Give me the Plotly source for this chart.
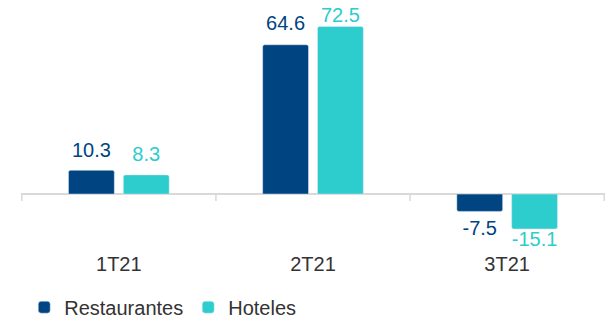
import plotly.graph_objects as go

categories = ["1T21", "2T21", "3T21"]
restaurantes = [10.3, 64.6, -7.5]
hoteles = [8.3, 72.5, -15.1]
labels_r = ["10.3", "64.6", "-7.5"]
labels_h = ["8.3", "72.5", "-15.1"]

NAVY = "#004481"
AQUA = "#2DCCCD"
FONT = "Liberation Sans, Arial, sans-serif"

# invisible marker sizes used only to pad each label away from its bar
pad_r = [12, 14, 12]
pad_h = [12, 0, 2]


def pos(vals):
    return ["top center" if v >= 0 else "bottom center" for v in vals]


series = [("Restaurantes", restaurantes, labels_r, NAVY, pad_r),
          ("Hoteles", hoteles, labels_h, AQUA, pad_h)]

fig = go.Figure()
for name, vals, labs, col, pad in series:
    fig.add_trace(go.Bar(
        x=categories, y=vals, name=name, offsetgroup=name,
        marker=dict(color=col, cornerradius=2),
    ))
for name, vals, labs, col, pad in series:
    fig.add_trace(go.Scatter(
        x=categories, y=vals, name=name, offsetgroup=name, showlegend=False,
        mode="markers+text", text=labs, textposition=pos(vals),
        marker=dict(size=pad, opacity=0, color=col),
        textfont=dict(color=col, size=20, family=FONT),
        cliponaxis=False, hoverinfo="skip",
    ))

# boundary ticks hanging from the zero line
for xb in [-0.5, 0.5, 1.5, 2.5]:
    fig.add_shape(type="line", xref="x", yref="y", x0=xb, x1=xb, y0=0, y1=-3,
                  line=dict(color="#D9D9D9", width=1.5))

fig.update_layout(
    width=606, height=320,
    margin=dict(l=21, r=1, t=5, b=70),
    paper_bgcolor="white", plot_bgcolor="white",
    barmode="group", bargap=0.435, bargroupgap=0.164,
    scattermode="group", scattergap=0.435,
    font=dict(family=FONT, size=20, color="#333333"),
    showlegend=True,
    legend=dict(orientation="h", xref="container", yref="container",
                x=0.04, y=0.04, xanchor="left", yanchor="middle",
                font=dict(size=20, color="#333333", family=FONT),
                itemwidth=30, tracegroupgap=0),
    xaxis=dict(showline=False, showgrid=False, ticks="", tickfont=dict(size=20, color="#333333")),
    yaxis=dict(range=[-24.2, 81.8], showgrid=False, showticklabels=False, ticks="",
               zeroline=True, zerolinecolor="#D9D9D9", zerolinewidth=1.5),
)

fig.write_html("out.html")
